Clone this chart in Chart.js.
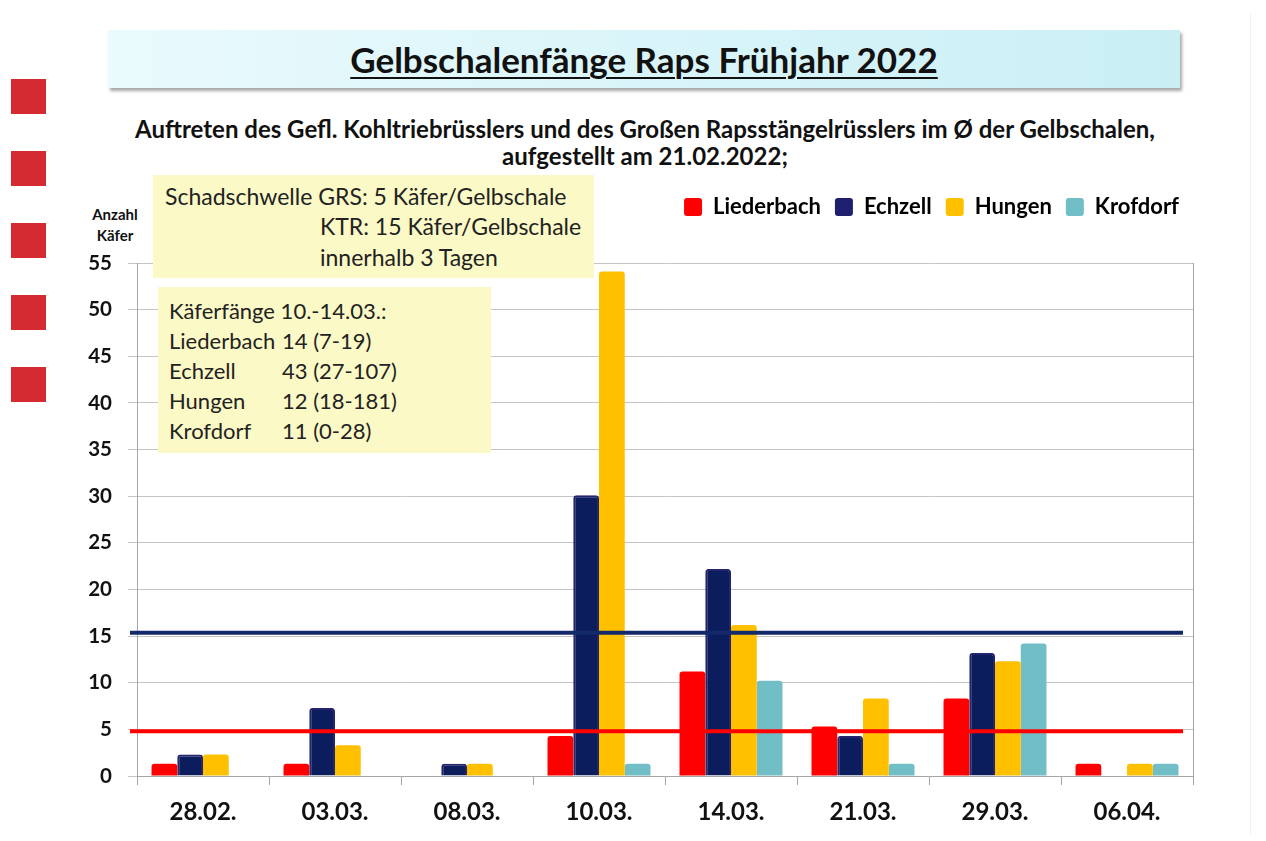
<!DOCTYPE html>
<html>
<head>
<meta charset="utf-8">
<script src="https://cdn.jsdelivr.net/npm/chart.js@4/dist/chart.umd.min.js"></script>
<style>
  body { margin: 0; background: #fff; font-family: Lato, sans-serif; }
  #page { position: relative; width: 1266px; height: 841px; overflow: hidden; }
  #c { position: absolute; left: 0; top: 0; }
  .sq { position: absolute; left: 11px; width: 35px; height: 35px; background: #d42a32; }
  #titlebox {
    position: absolute; left: 108px; top: 30px; width: 1072px; height: 58px;
    background: linear-gradient(to right, #eafafd, #c9eff5);
    box-shadow: 2px 3px 3px rgba(0,0,0,0.35);
    text-align: center; line-height: 58px;
    font-weight: bold; font-size: 35px; color: #111;
  }
  #titlebox span { text-decoration: underline; text-decoration-thickness: 2px; text-underline-offset: 4px; }
  #sub { position: absolute; left: 0; width: 1290px; top: 115px; text-align: center;
    font-weight: bold; font-size: 24px; line-height: 27px; color: #111; }
  #ytitle { position: absolute; left: 86px; width: 58px; top: 204px; text-align: center;
    font-weight: bold; font-size: 15px; line-height: 21px; color: #111; }
  .note { position: absolute; background: #fbf9c6; color: #222; line-height: 30.5px; z-index: 2; }
  #note1 { left: 153px; top: 175px; width: 441px; height: 103px; font-size: 23px; }
  #note2 { left: 158px; top: 287px; width: 333px; height: 166px; font-size: 22px; }
  .note div { position: absolute; white-space: nowrap; }
  #edge { position: absolute; left: 1250px; top: 14px; width: 1px; height: 820px; background: #f0f0f0; }
</style>
</head>
<body>
<div id="page">
  <div class="sq" style="top:79px"></div>
  <div class="sq" style="top:151px"></div>
  <div class="sq" style="top:223px"></div>
  <div class="sq" style="top:295px"></div>
  <div class="sq" style="top:367px"></div>
  <div id="edge"></div>
  <div id="titlebox"><span>Gelbschalenfänge Raps Frühjahr 2022</span></div>
  <div id="sub">Auftreten des Gefl. Kohltriebrüsslers und des Großen Rapsstängelrüsslers im Ø der Gelbschalen,<br>aufgestellt am 21.02.2022;</div>
  <div id="ytitle">Anzahl<br>Käfer</div>
  <canvas id="c" width="1266" height="841"></canvas>
  <div class="note" id="note1">
    <div style="left:12px; top:6px">Schadschwelle GRS: 5 Käfer/Gelbschale</div>
    <div style="left:167px; top:36px">KTR: 15 Käfer/Gelbschale</div>
    <div style="left:167px; top:67px">innerhalb 3 Tagen</div>
  </div>
  <div class="note" id="note2">
    <div style="left:11px; top:9px">Käferfänge 10.-14.03.:</div>
    <div style="left:11px; top:39px">Liederbach</div><div style="left:124px; top:39px">14 (7-19)</div>
    <div style="left:11px; top:69px">Echzell</div><div style="left:124px; top:69px">43 (27-107)</div>
    <div style="left:11px; top:99px">Hungen</div><div style="left:124px; top:99px">12 (18-181)</div>
    <div style="left:11px; top:129px">Krofdorf</div><div style="left:124px; top:129px">11 (0-28)</div>
  </div>
</div>
<script>
// Fangtermine
const dates = ['28.02.', '03.03.', '08.03.', '10.03.', '14.03.', '21.03.', '29.03.', '06.04.'];

// Käfer im Ø der Gelbschalen je Standort
const liederbach = [1.3, 1.3, 0, 4.3, 11.2, 5.3, 8.3, 1.3];
const echzell    = [2.3, 7.3, 1.3, 30.1, 22.2, 4.3, 13.2, 0];
const hungen     = [2.3, 3.3, 1.3, 54.1, 16.2, 8.3, 12.3, 1.3];
const krofdorf   = [0, 0, 0, 1.3, 10.2, 1.3, 14.2, 1.3];

// Schadschwellen (KTR, GRS) wie eingezeichnet
const thresholdValues = [15.35, 4.8];
const thresholdColors = ['#14296a', '#ff0000'];

const yMax = 55;
const yStep = 5;

const thresholdLines = {
  id: 'thresholdLines',
  afterDatasetsDraw(chart) {
    const { ctx, chartArea, scales } = chart;
    ctx.save();
    // rechter Rahmen
    ctx.strokeStyle = '#a6a6a6';
    ctx.lineWidth = 1;
    ctx.beginPath();
    ctx.moveTo(chartArea.right + 0.5, chartArea.top);
    ctx.lineTo(chartArea.right + 0.5, chartArea.bottom + 4);
    ctx.stroke();
    thresholdValues.forEach((v, i) => {
      const y = scales.y.getPixelForValue(v);
      ctx.strokeStyle = thresholdColors[i];
      ctx.lineWidth = 4;
      ctx.beginPath();
      ctx.moveTo(chartArea.left - 7, y);
      ctx.lineTo(chartArea.right - 10, y);
      ctx.stroke();
    });
    ctx.restore();
  }
};

const legendMargin = {
  id: 'legendMargin',
  beforeInit(chart) {
    const fit = chart.legend.fit;
    chart.legend.fit = function () {
      fit.bind(chart.legend)();
      this.height = 81;
    };
  }
};

const barStyle = {
  categoryPercentage: 0.78,
  barPercentage: 1.0,
  borderRadius: 3,
  borderSkipped: 'start'
};

new Chart(document.getElementById('c'), {
  type: 'bar',
  data: {
    labels: dates,
    datasets: [
      { label: 'Liederbach', data: liederbach, backgroundColor: '#ff0000', ...barStyle },
      { label: 'Echzell', data: echzell, backgroundColor: '#0c1d5e', borderColor: '#24246f', borderWidth: 2, ...barStyle },
      { label: 'Hungen', data: hungen, backgroundColor: '#ffc000', ...barStyle },
      { label: 'Krofdorf', data: krofdorf, backgroundColor: '#72bec6', ...barStyle }
    ]
  },
  options: {
    responsive: false,
    animation: false,
    layout: { padding: { left: 0, right: 73, top: 182, bottom: 0 } },
    plugins: {
      legend: {
        position: 'top',
        align: 'end',
        labels: {
          boxWidth: 18,
          boxHeight: 18,
          padding: 14,
          color: '#111',
          font: { family: 'Lato', size: 22, weight: 'bold' },
          generateLabels(chart) {
            return chart.data.datasets.map((ds, i) => ({
              text: ds.label,
              fillStyle: i === 1 ? '#1f1f70' : ds.backgroundColor,
              strokeStyle: i === 1 ? '#1f1f70' : ds.backgroundColor,
              lineWidth: 0,
              borderRadius: 3,
              datasetIndex: i
            }));
          }
        }
      },
      tooltip: { enabled: false }
    },
    scales: {
      x: {
        afterFit(scale) { scale.height = 65; },
        grid: { offset: true, drawOnChartArea: false, drawTicks: true, tickLength: 9, color: '#a6a6a6' },
        border: { color: '#a6a6a6' },
        ticks: { color: '#111', padding: 13, font: { family: 'Lato', size: 24, weight: 'bold' } }
      },
      y: {
        min: 0,
        max: yMax,
        afterFit(scale) { scale.width = 137; },
        grid: { color: '#c4c4c4', tickLength: 9 },
        border: { color: '#a6a6a6' },
        ticks: { stepSize: yStep, color: '#111', padding: 16, font: { family: 'Lato', size: 20.5, weight: 'bold' } }
      }
    }
  },
  plugins: [thresholdLines, legendMargin]
});
</script>
</body>
</html>
